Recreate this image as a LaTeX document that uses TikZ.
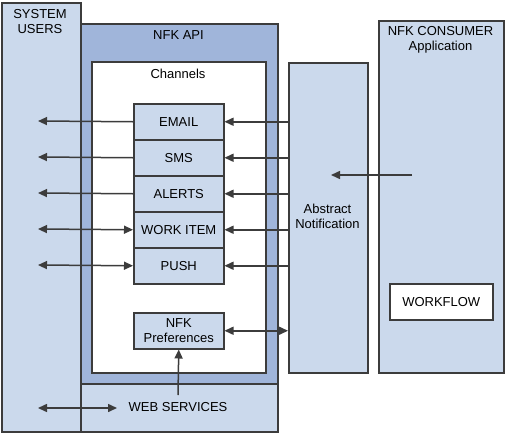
\documentclass[tikz,border=0pt]{standalone}
\usepackage{fontspec}
\setmainfont{Liberation Sans}
\usetikzlibrary{arrows.meta,calc}
\definecolor{lightb}{HTML}{CBD9EC}
\definecolor{darkb}{HTML}{A0B5DA}
\definecolor{edge}{HTML}{3C3C3C}
\begin{document}
\begin{tikzpicture}[x=1pt,y=-1pt,
  box/.style={draw=edge,line width=1.5pt,fill=lightb,inner sep=0pt,anchor=north west},
  lbl/.style={font=\fontsize{13}{15}\selectfont,text=black,align=center,inner sep=0pt},
  conn/.style={draw=edge,line width=1.5pt,-{Triangle[length=9pt,width=8pt]}},
  bconn/.style={draw=edge,line width=1.5pt,{Triangle[length=9pt,width=8pt]}-{Triangle[length=9pt,width=8pt]}}]
\useasboundingbox (0,0) rectangle (506,434);
% boxes
\node[box,minimum width=79pt,minimum height=429pt] (users) at (1,2) {};
\node[box,fill=darkb,minimum width=197pt,minimum height=360pt] (api) at (80,23) {};
\node[box,minimum width=197pt,minimum height=48pt] (ws) at (80,383) {};
\node[box,fill=white,minimum width=174pt,minimum height=311pt] (chan) at (91,61) {};
\node[box,minimum width=90pt,minimum height=36pt] (email) at (133,103) {};
\node[box,minimum width=90pt,minimum height=36pt] (sms) at (133,139) {};
\node[box,minimum width=90pt,minimum height=36pt] (alerts) at (133,175) {};
\node[box,minimum width=90pt,minimum height=36pt] (work) at (133,211) {};
\node[box,minimum width=90pt,minimum height=36pt] (push) at (133,247) {};
\node[box,minimum width=90pt,minimum height=36pt] (pref) at (133,312) {};
\node[box,minimum width=79pt,minimum height=310pt] (abs) at (288,62) {};
\node[box,minimum width=125pt,minimum height=352pt] (cons) at (378,20) {};
\node[box,fill=white,minimum width=103pt,minimum height=36pt] (wf) at (389,283) {};
% labels
\node[lbl] (tusers) at (40,22) {SYSTEM\\USERS};
\node[lbl] (tapi) at (178.5,35) {NFK API};
\node[lbl] (tchan) at (178,74) {Channels};
\node[lbl] at (email.center) {EMAIL};
\node[lbl] at (sms.center) {SMS};
\node[lbl] at (alerts.center) {ALERTS};
\node[lbl] at (work.center) {WORK ITEM};
\node[lbl] at (push.center) {PUSH};
\node[lbl] at (pref.center) {NFK\\Preferences};
\node[lbl] at (327.5,216.5) {Abstract\\Notification};
\node[lbl] at (440.5,40) {NFK CONSUMER\\Application};
\node[lbl] at (wf.center) {WORKFLOW};
\node[lbl] (tws) at (178,407) {WEB SERVICES};
% free ends
\coordinate (u1) at (38,121);
\coordinate (u2) at (38,157);
\coordinate (u3) at (38,193);
\coordinate (u4) at (38,229);
\coordinate (u5) at (38,265);
\coordinate (u6) at (38,408);
\coordinate (wsin) at (117,408);
\coordinate (wsup) at (178,395);
\coordinate (cs) at (412,175);
\coordinate (ce) at (331,175);
% connectors
\draw[conn] (email.west) -- (u1);
\draw[conn] (sms.west) -- (u2);
\draw[conn] (alerts.west) -- (u3);
\draw[bconn] (u4) -- (work.west);
\draw[bconn] (u5) -- (push.west);
\draw[conn] (abs.west |- email.east) -- (email.east);
\draw[conn] (abs.west |- sms.east) -- (sms.east);
\draw[conn] (abs.west |- alerts.east) -- (alerts.east);
\draw[conn] (abs.west |- work.east) -- (work.east);
\draw[conn] (abs.west |- push.east) -- (push.east);
\draw[bconn] (pref.east) -- (abs.west |- pref.east);
\draw[conn] (wsup) -- (pref.south);
\draw[bconn] (u6) -- (wsin);
\draw[conn] (cs) -- (ce);
\end{tikzpicture}
\end{document}
